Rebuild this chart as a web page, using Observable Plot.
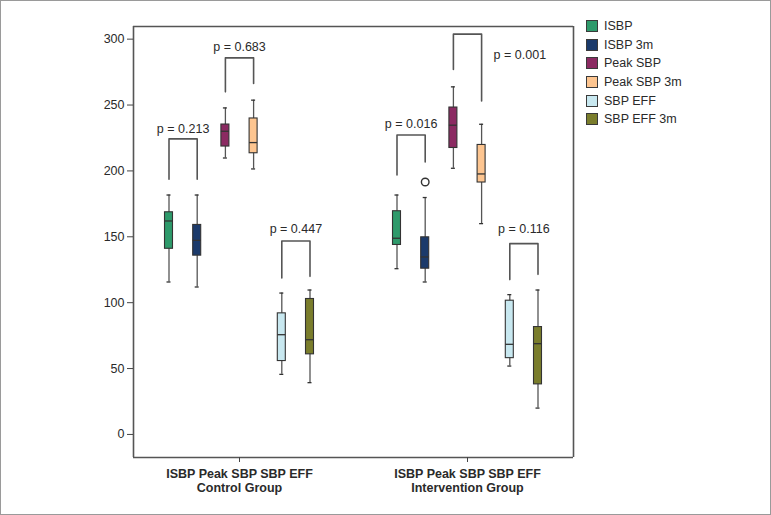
<!DOCTYPE html>
<html>
<head>
<meta charset="utf-8">
<script src="https://cdn.jsdelivr.net/npm/d3@7"></script>
<script src="https://cdn.jsdelivr.net/npm/@observablehq/plot@0.6"></script>
<style>
  html, body { margin: 0; padding: 0; background: #fff; }
  #wrap { position: relative; width: 771px; height: 515px; overflow: hidden; background: #fff; }
  #border { position: absolute; left: 0; top: 0; width: 771px; height: 515px; box-sizing: border-box; border: 1.5px solid #9a9a9a; pointer-events: none; }
  #legend { position: absolute; left: 586px; top: 17px; font-family: "Liberation Sans Narrow", "Arial Narrow", "Liberation Sans", sans-serif; font-size: 12.5px; color: #2a2a2a; }
  .row { display: flex; align-items: center; height: 18.6px; }
  .sw { width: 10px; height: 10px; border: 1px solid #3a3a3a; margin-right: 6px; }
</style>
</head>
<body>
<div id="wrap"><div id="chart"></div><div id="legend"></div><div id="border"></div></div>
<script>
// ---------- data ----------
const groups = ["Control Group", "Intervention Group"];
const groupAxisLine = "ISBP Peak SBP SBP EFF";
const series = ["ISBP", "ISBP 3m", "Peak SBP", "Peak SBP 3m", "SBP EFF", "SBP EFF 3m"];
const colors = ["#2e9a6b", "#1b3a6b", "#8b2a62", "#fdc590", "#c8e8f0", "#7a7d2c"];
const yTicks = [0, 50, 100, 150, 200, 250, 300];
const yDomain = [-17.5, 309.6];

// five-number summaries, per series (order as in `series`)
const controlMin = [115.7, 111.9, 209.8, 201.5, 45.6, 39.3];
const controlQ1  = [140.9, 135.7, 218.5, 213.4, 55.7, 60.8];
const controlMed = [162.0, 147.3, 230.1, 221.5, 75.7, 71.9];
const controlQ3  = [168.6, 159.0, 235.2, 239.8, 91.9, 102.8];
const controlMax = [181.7, 181.7, 247.8, 253.7, 107.3, 109.6];

const interventionMin = [125.8, 115.7, 202.0, 160.0, 51.9, 20.0];
const interventionQ1  = [143.8, 125.8, 217.4, 191.2, 57.9, 38.0];
const interventionMed = [148.9, 134.7, 234.7, 197.7, 68.4, 68.9];
const interventionQ3  = [169.4, 149.6, 248.1, 219.7, 101.5, 81.5];
const interventionMax = [181.7, 179.8, 263.8, 235.4, 106.1, 109.6];

const outlierGroup = ["Intervention Group"];
const outlierSeries = ["ISBP 3m"];
const outlierValue = [191.6];

// significance brackets
const bracketGroup = ["Control Group", "Control Group", "Control Group", "Intervention Group", "Intervention Group", "Intervention Group"];
const bracketFrom = ["ISBP", "Peak SBP", "SBP EFF", "ISBP", "Peak SBP", "SBP EFF"];
const bracketTo = ["ISBP 3m", "Peak SBP 3m", "SBP EFF 3m", "ISBP 3m", "Peak SBP 3m", "SBP EFF 3m"];
const bracketLeftLow = [193.7, 260.0, 118.7, 196.9, 277.0, 117.5];
const bracketTop = [224.3, 285.8, 146.8, 227.3, 303.8, 144.8];
const bracketRightLow = [193.7, 266.4, 120.0, 206.8, 253.1, 121.5];
const pLabels = ["p = 0.213", "p = 0.683", "p = 0.447", "p = 0.016", "p = 0.001", "p = 0.116"];
const pLabelY = [231.6, 293.7, 155.9, 235.4, 287.8, 155.7];
const pLabelSide = ["mid", "mid", "mid", "mid", "right", "mid"];

// ---------- build tables ----------
const boxes = [];
const summaries = [
  [controlMin, controlQ1, controlMed, controlQ3, controlMax],
  [interventionMin, interventionQ1, interventionMed, interventionQ3, interventionMax]
];
groups.forEach((g, gi) => {
  const [mn, q1, md, q3, mx] = summaries[gi];
  series.forEach((s, si) => boxes.push({group: g, series: s, min: mn[si], q1: q1[si], med: md[si], q3: q3[si], max: mx[si]}));
});
const outliers = outlierValue.map((v, i) => ({group: outlierGroup[i], series: outlierSeries[i], value: v}));
const bracketPts = [];
const labels = [];
bracketGroup.forEach((g, i) => {
  bracketPts.push({id: i, group: g, series: bracketFrom[i], y: bracketLeftLow[i]});
  bracketPts.push({id: i, group: g, series: bracketFrom[i], y: bracketTop[i]});
  bracketPts.push({id: i, group: g, series: bracketTo[i], y: bracketTop[i]});
  bracketPts.push({id: i, group: g, series: bracketTo[i], y: bracketRightLow[i]});
  labels.push({group: g, series: pLabelSide[i] === "right" ? bracketTo[i] : bracketFrom[i], y: pLabelY[i], text: pLabels[i], side: pLabelSide[i]});
});

// ---------- layout ----------
const FONT = '"Liberation Sans Narrow", "Arial Narrow", "Liberation Sans", sans-serif';
const facetGap = 16;          // px between the two group panels
const panelW = 212;           // px width of one group panel
const seriesStep = 28.2;      // px between neighbouring boxes
const boxW = 8;
const xPadInner = 1 - boxW / seriesStep;
const xPadOuter = ((panelW / seriesStep) - 6 + xPadInner) / 2;
const firstCenter = xPadOuter * seriesStep + boxW / 2;

const plot = Plot.plot({
  width: 771,
  height: 515,
  marginLeft: 133,
  marginRight: 198,
  marginTop: 26,
  marginBottom: 58,
  style: {fontFamily: FONT, fontSize: "12.5px", color: "#2a2a2a", background: "transparent", overflow: "visible"},
  fx: {domain: groups, paddingInner: facetGap / (panelW + facetGap), paddingOuter: 0, round: false, label: null},
  x: {domain: series, paddingInner: xPadInner, paddingOuter: xPadOuter, round: false, axis: null},
  y: {domain: yDomain, label: null},
  color: {domain: series, range: colors},
  marks: [
    // panel frame
    Plot.ruleY(yDomain, {y: d => d, fx: () => groups[0], insetRight: -facetGap / 2, stroke: "#555", strokeWidth: 1.6}),
    Plot.ruleY(yDomain, {y: d => d, fx: () => groups[1], insetLeft: -facetGap / 2, stroke: "#555", strokeWidth: 1.6}),
    Plot.ruleX([series[0]], {x: d => d, fx: () => groups[0], dx: -firstCenter, stroke: "#555", strokeWidth: 1.6}),
    Plot.ruleX([series[5]], {x: d => d, fx: () => groups[1], dx: firstCenter, stroke: "#555", strokeWidth: 1.6}),
    Plot.axisY({ticks: yTicks, tickSize: 6, tickPadding: 3, label: null, stroke: "#444", fontSize: 12.5}),
    Plot.axisFx({anchor: "bottom", tickSize: 5, tickPadding: 6, label: null, stroke: "#444",
      tickFormat: d => groupAxisLine + "\n" + d, fontWeight: "bold", lineHeight: 1.12, fontSize: 12.5}),
    // whiskers
    Plot.ruleX(boxes, {x: "series", fx: "group", y1: "min", y2: "max", stroke: "#555", strokeWidth: 1.3}),
    Plot.tickY(boxes, {x: "series", fx: "group", y: "min", insetLeft: 2, insetRight: 2, stroke: "#333", strokeWidth: 1.3}),
    Plot.tickY(boxes, {x: "series", fx: "group", y: "max", insetLeft: 2, insetRight: 2, stroke: "#333", strokeWidth: 1.3}),
    // boxes
    Plot.barY(boxes, {x: "series", fx: "group", y1: "q1", y2: "q3", fill: "series", stroke: "#333", strokeWidth: 1.1}),
    Plot.tickY(boxes, {x: "series", fx: "group", y: "med", stroke: "#333", strokeWidth: 1.3}),
    // outliers
    Plot.dot(outliers, {x: "series", fx: "group", y: "value", r: 3.8, stroke: "#333", fill: "white", strokeWidth: 1.4}),
    // brackets
    Plot.line(bracketPts, {x: "series", fx: "group", y: "y", z: "id", stroke: "#555", strokeWidth: 1.6, curve: "linear"}),
    Plot.text(labels.filter(d => d.side === "mid"), {x: "series", fx: "group", y: "y", text: "text", dx: seriesStep / 2, fill: "#2a2a2a", fontSize: 12.5}),
    Plot.text(labels.filter(d => d.side === "right"), {x: "series", fx: "group", y: "y", text: "text", dx: 12, textAnchor: "start", fill: "#2a2a2a", fontSize: 12.5})
  ]
});
document.getElementById("chart").appendChild(plot);

// legend
const legend = document.getElementById("legend");
series.forEach((s, i) => {
  const row = document.createElement("div");
  row.className = "row";
  const sw = document.createElement("div");
  sw.className = "sw";
  sw.style.background = colors[i];
  const t = document.createElement("span");
  t.textContent = s;
  row.appendChild(sw);
  row.appendChild(t);
  legend.appendChild(row);
});
</script>
</body>
</html>
